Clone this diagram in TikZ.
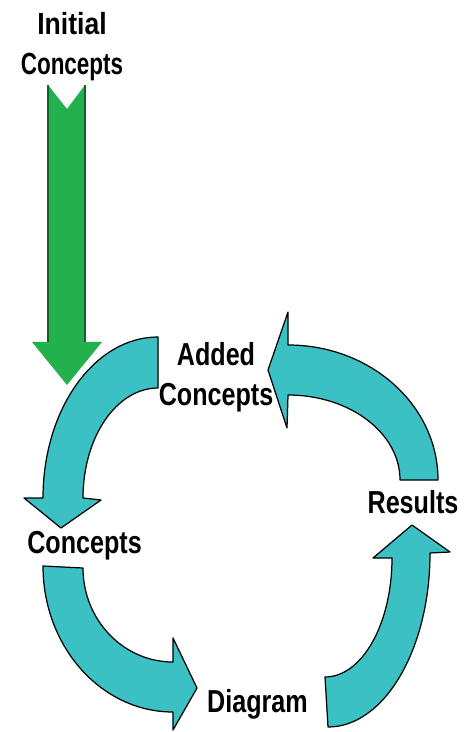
\documentclass[tikz,border=0pt]{standalone}
\usepackage{fontspec}
\setmainfont{Liberation Sans}
\newfontfamily\cyclefont{Liberation Sans}[FakeStretch=0.79]
\newfontfamily\startfont{Liberation Sans}[FakeStretch=0.735]
\newfontfamily\startfontwide{Liberation Sans}[FakeStretch=0.87]
\usepackage{tikz}
\usetikzlibrary{positioning,calc}
\definecolor{cyclecyan}{RGB}{59,193,196}
\definecolor{startgreen}{RGB}{34,177,76}

\begin{document}
\begin{tikzpicture}[x=0.02cm, y=-0.02cm,
    blockarrow/.style={fill=cyclecyan, draw=black, line width=0.7pt, line join=round},
    lbl/.style={inner sep=0pt, font=\cyclefont\bfseries\fontsize{18.1}{22.7}\selectfont}]
    \useasboundingbox (0,0) rectangle (463,732);

    % Labels
    \node[lbl, align=center, font=\startfont\bfseries\fontsize{17.4}{22.7}\selectfont] (initial) at (72,47)
        {{\startfontwide\bfseries Initial}\\Concepts};
    \node[lbl, align=center] (added) at (216,377) {Added\\Concepts};
    \node[lbl, anchor=base] (concepts) at (84.5,553) {Concepts};
    \node[lbl, anchor=base] (diagram) at (257.5,712) {Diagram};
    \node[lbl, anchor=base] (results) at (413,513) {Results};

    % Incoming arrow
    \fill[startgreen] (48,85) -- (67,109) -- (85,85) -- (85,342) -- (102,342)
        -- (67,385) -- (32,342) -- (48,342) -- cycle;
    \draw[startgreen!55!black, line width=0.6pt] (48,85) -- (48,342) (85,85) -- (85,342);

    % Cycle arrows
    \draw[blockarrow] (158,337) .. controls (94.5,337) and (43,409.1) .. (43,498)
        -- (24,498) -- (61,528) -- (101,500) -- (83,498)
        .. controls (83,437.2) and (116.6,388) .. (158,388) -- cycle;
    \draw[blockarrow] (43,566) .. controls (43,646.6) and (101.2,712) .. (173,712)
        -- (173,730) -- (197,688) -- (173,638) -- (173,662)
        .. controls (123.3,662) and (83,619.9) .. (83,568) -- cycle;
    \draw[blockarrow] (328,727) .. controls (384.3,727) and (430,649.1) .. (430,553)
        -- (450,552) -- (412,525) -- (373,558) -- (392,558)
        .. controls (392,623.7) and (362,677) .. (325,677) -- cycle;
    \draw[blockarrow] (438,480) .. controls (438,405.4) and (370.8,345) .. (288,345)
        -- (288,312) -- (268,370) -- (287,428) -- (288,395)
        .. controls (349.9,395) and (400,433.1) .. (400,480) -- cycle;
\end{tikzpicture}
\end{document}
